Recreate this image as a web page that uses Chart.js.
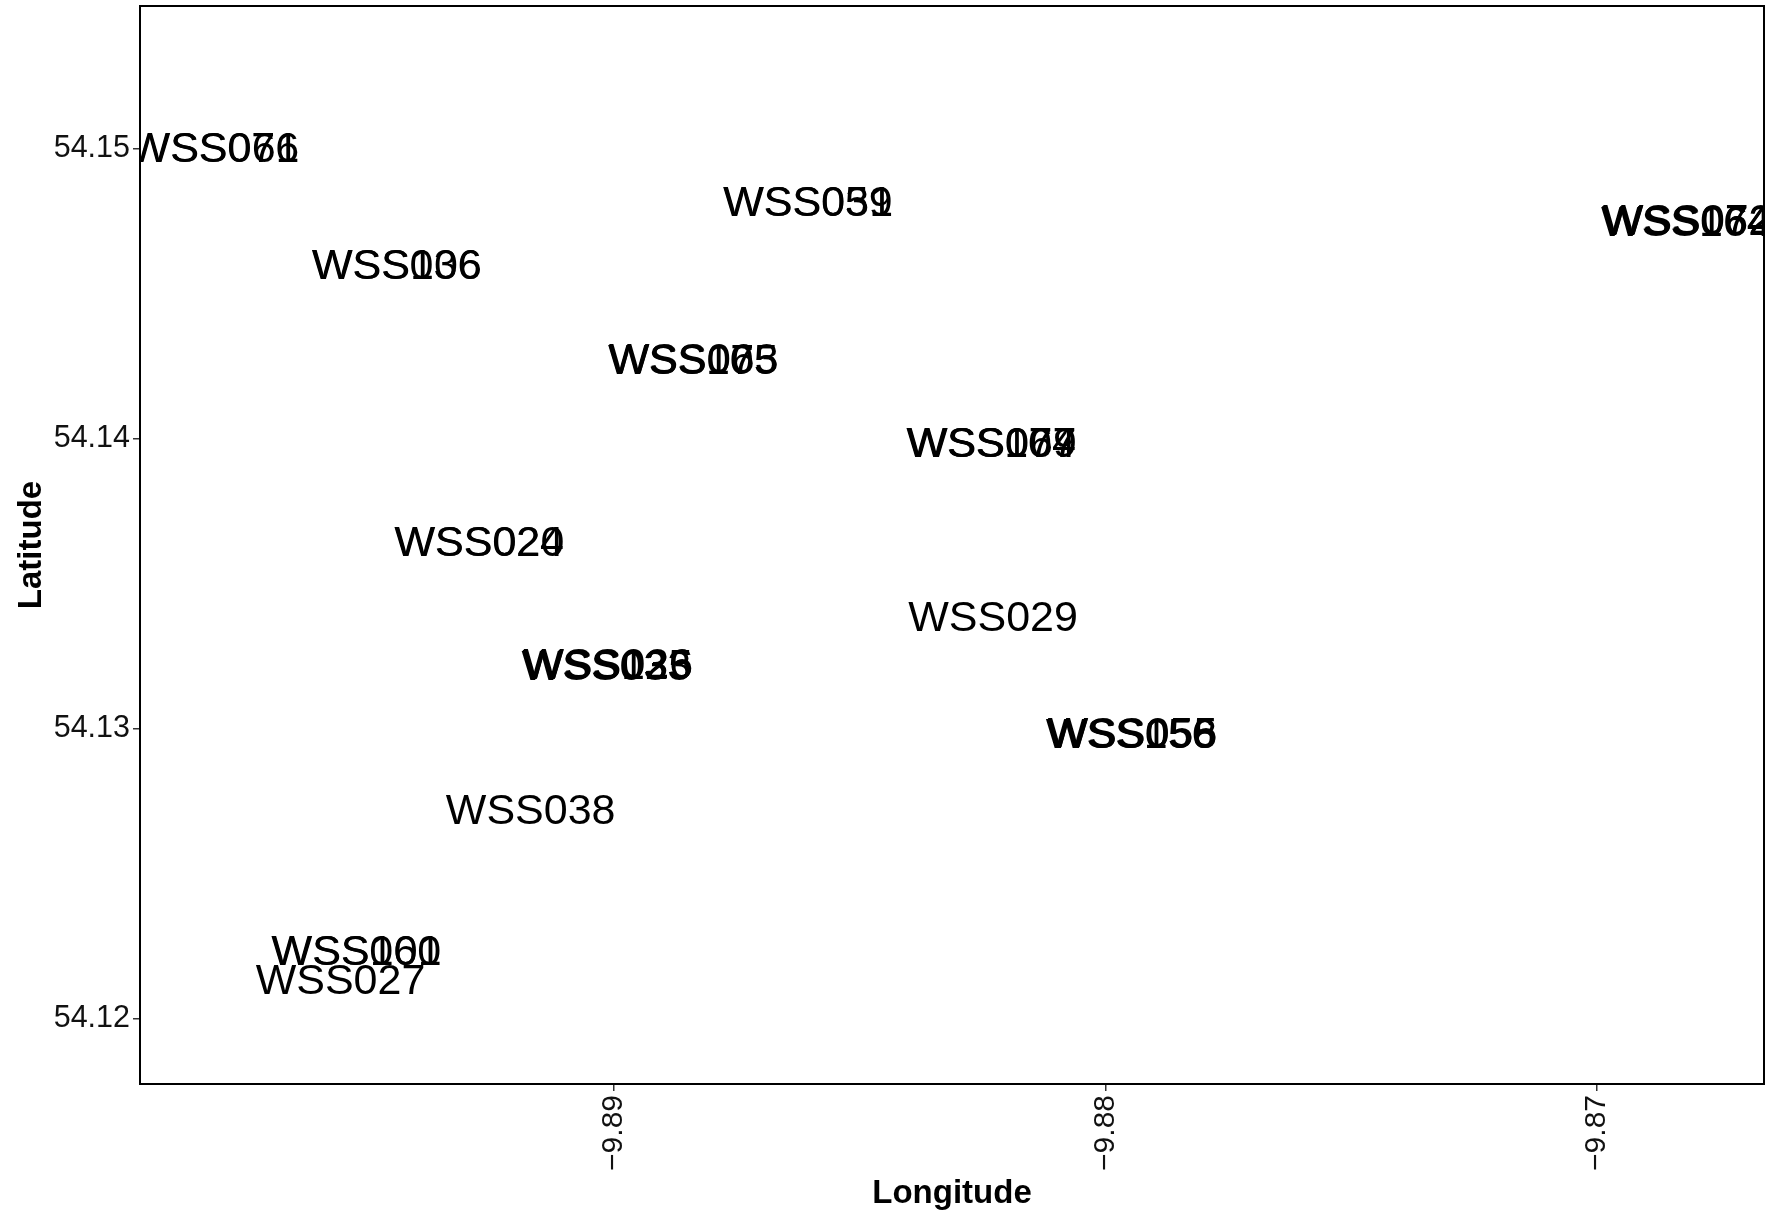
<!DOCTYPE html>
<html>
<head>
<meta charset="utf-8">
<script src="https://cdn.jsdelivr.net/npm/chart.js@4.4.0/dist/chart.umd.min.js"></script>
<style>
  html, body { margin: 0; padding: 0; background: #fff; }
  #wrap { width: 1767px; height: 1212px; }
</style>
</head>
<body>
<div id="wrap"><canvas id="mapChart"></canvas></div>
<script>
// station names and where they sit (several share almost the same spot)
const stations = [
    'WSS076', 'WSS061',
    'WSS059', 'WSS031',
    'WSS036', 'WSS106',
    'WSS075', 'WSS063', 'WSS105',
    'WSS077', 'WSS069', 'WSS104',
    'WSS024', 'WSS020',
    'WSS029',
    'WSS035', 'WSS026', 'WSS033', 'WSS125',
    'WSS056', 'WSS055', 'WSS156', 'WSS058',
    'WSS038',
    'WSS060', 'WSS101',
    'WSS027',
    'WSS064', 'WSS072', 'WSS164', 'WSS062'
];
const longitudes = [
    -9.89814, -9.89813,
    -9.88606, -9.88605,
    -9.89443, -9.89442,
    -9.88839, -9.88838, -9.88840,
    -9.88232, -9.88231, -9.88233,
    -9.89275, -9.89274,
    -9.88229,
    -9.89014, -9.89012, -9.89016, -9.89013,
    -9.87947, -9.87945, -9.87949, -9.87946,
    -9.89170,
    -9.89525, -9.89524,
    -9.89557,
    -9.86817, -9.86815, -9.86819, -9.86816
];
const latitudes = [
    54.15008, 54.15008,
    54.14821, 54.14821,
    54.14604, 54.14604,
    54.14277, 54.14278, 54.14276,
    54.13990, 54.13991, 54.13989,
    54.13648, 54.13648,
    54.13391,
    54.13224, 54.13227, 54.13222, 54.13225,
    54.12987, 54.12990, 54.12985, 54.12988,
    54.12723,
    54.12237, 54.12237,
    54.12140,
    54.14755, 54.14758, 54.14753, 54.14756
];
const xTicks = [-9.89, -9.88, -9.87];
const yTicks = [54.12, 54.13, 54.14, 54.15];
const xRange = [-9.89965, -9.8666];
const yRange = [54.11775, 54.15492];

const FONT = '"Liberation Sans", Arial, Helvetica, sans-serif';
const LABEL_SIZE = 43;

const fmt = v => v.toFixed(2).replace('-', '\u2212');

// text labels at each station, clipped to the panel like ggplot
const stationLabels = {
    id: 'stationLabels',
    afterDatasetsDraw(chart) {
        const { ctx, chartArea } = chart;
        const points = chart.getDatasetMeta(0).data;
        ctx.save();
        ctx.beginPath();
        ctx.rect(chartArea.left, chartArea.top, chartArea.right - chartArea.left, chartArea.bottom - chartArea.top);
        ctx.clip();
        ctx.font = `${LABEL_SIZE}px ${FONT}`;
        ctx.fillStyle = '#000';
        ctx.textAlign = 'center';
        ctx.textBaseline = 'alphabetic';
        points.forEach((pt, i) => {
            ctx.fillText(stations[i], pt.x, pt.y + LABEL_SIZE * 0.716 / 2);
        });
        ctx.restore();
    }
};

// panel border on all four sides
const panelFrame = {
    id: 'panelFrame',
    afterDraw(chart) {
        const { ctx, chartArea } = chart;
        ctx.save();
        ctx.strokeStyle = '#000';
        ctx.lineWidth = 2;
        ctx.strokeRect(chartArea.left, chartArea.top, chartArea.right - chartArea.left, chartArea.bottom - chartArea.top);
        ctx.restore();
    }
};

const ctx = document.getElementById('mapChart').getContext('2d');
new Chart(ctx, {
    type: 'scatter',
    data: {
        datasets: [{
            data: longitudes.map((x, i) => ({ x: x, y: latitudes[i] })),
            pointRadius: 0,
            pointHoverRadius: 0,
            showLine: false
        }]
    },
    options: {
        responsive: true,
        maintainAspectRatio: false,
        animation: false,
        devicePixelRatio: 1,
        layout: { padding: { top: 6, right: 3, left: 0, bottom: 0 } },
        plugins: {
            legend: { display: false },
            tooltip: { enabled: false }
        },
        scales: {
            x: {
                type: 'linear',
                position: 'bottom',
                min: xRange[0],
                max: xRange[1],
                afterBuildTicks: s => { s.ticks = xTicks.map(v => ({ value: v })); },
                afterFit: s => { s.height = 128; s.paddingLeft = 0; s.paddingRight = 0; },
                ticks: {
                    minRotation: 90,
                    maxRotation: 90,
                    padding: 4,
                    color: '#111',
                    font: { family: FONT, size: 30 },
                    callback: v => fmt(v)
                },
                grid: { drawOnChartArea: false, drawTicks: true, tickLength: 7, color: '#333', lineWidth: 1.5 },
                border: { display: false },
                title: {
                    display: true,
                    text: 'Longitude',
                    color: '#000',
                    font: { family: FONT, size: 33, weight: 'bold', lineHeight: 1.1 },
                    padding: { top: 0, bottom: 0 }
                }
            },
            y: {
                type: 'linear',
                position: 'left',
                min: yRange[0],
                max: yRange[1],
                afterBuildTicks: s => { s.ticks = yTicks.map(v => ({ value: v })); },
                afterFit: s => { s.width = 140; s.paddingTop = 0; s.paddingBottom = 0; },
                ticks: {
                    padding: 3,
                    color: '#111',
                    font: { family: FONT, size: 30.5 },
                    callback: v => fmt(v)
                },
                grid: { drawOnChartArea: false, drawTicks: true, tickLength: 7, color: '#333', lineWidth: 1.5 },
                border: { display: false },
                title: {
                    display: true,
                    text: 'Latitude',
                    color: '#000',
                    font: { family: FONT, size: 33, weight: 'bold' },
                    padding: { top: 12, bottom: 0 }
                }
            }
        }
    },
    plugins: [stationLabels, panelFrame]
});
</script>
</body>
</html>
